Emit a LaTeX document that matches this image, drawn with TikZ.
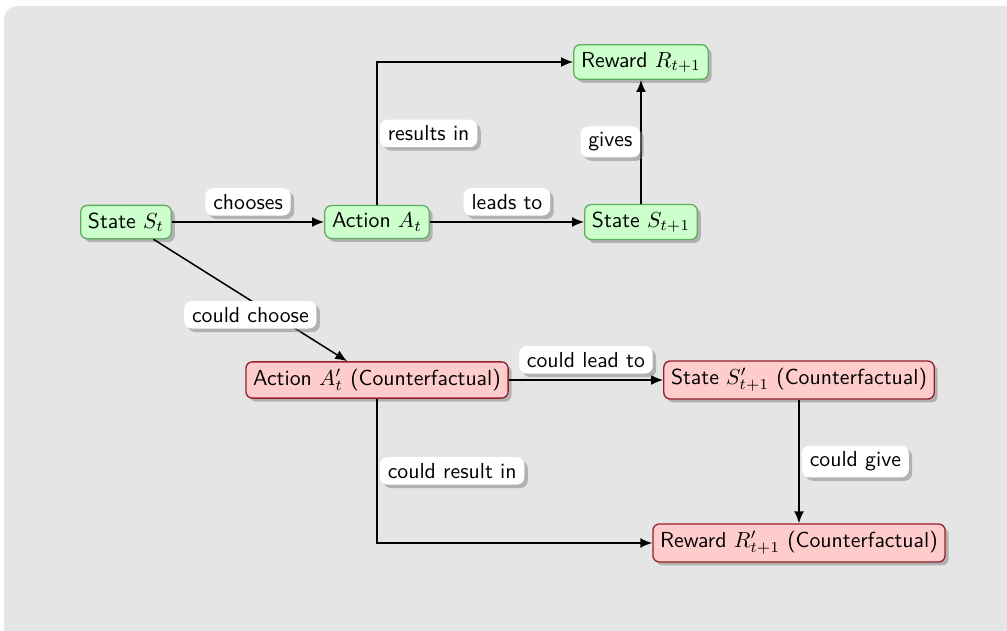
\documentclass[tikz,border=0pt]{standalone}
\usetikzlibrary{arrows.meta,shadows}
\definecolor{realedge}{RGB}{95,175,95}
\definecolor{realfill}{RGB}{204,255,204}
\definecolor{cfedge}{RGB}{150,30,40}
\definecolor{cffill}{RGB}{255,204,204}
\definecolor{panel}{RGB}{229,229,229}
\begin{document}
\begin{tikzpicture}[x=0.46pt,y=-0.46pt,font=\sffamily,
  soft/.style={drop shadow={shadow xshift=1.6pt,shadow yshift=-1.6pt,opacity=0.5,fill=black!50}},
  box/.style={rounded corners=3pt,inner sep=3.33pt,line width=0.6pt,soft},
  real/.style={box,fill=realfill,draw=realedge},
  cf/.style={box,fill=cffill,draw=cfedge},
  tag/.style={fill=white,rounded corners=3.5pt,inner xsep=3.6pt,inner ysep=2.8pt,soft},
  link/.style={line width=0.7pt,-{Latex[length=5.5pt,width=4.5pt]}}
]
% page and grey panel
\useasboundingbox (0,0) rectangle (1007,631);
\clip (0,0) rectangle (1007,631);
\fill[panel,rounded corners=6pt] (4,6) rectangle (1030,650);

% actual trajectory
\node[real] (St)  at (126,222) {State $S_t$};
\node[real] (At)  at (377,222) {Action $A_t$};
\node[real] (St1) at (641,222) {State $S_{t+1}$};
\node[real] (Rt1) at (641,62)  {Reward $R_{t+1}$};

% counterfactual trajectory
\node[cf] (Acf) at (377,380) {Action $A'_t$ (Counterfactual)};
\node[cf] (Scf) at (799,380) {State $S'_{t+1}$ (Counterfactual)};
\node[cf] (Rcf) at (799,543) {Reward $R'_{t+1}$ (Counterfactual)};

% connectors
\draw[link] (St) -- node[tag,above=2.6pt] {chooses} (At);
\draw[link] (At) -- node[tag,above=2.6pt] {leads to} (St1);
\draw[link] (At) |- node[tag,right=1pt,pos=0.25] {results in} (Rt1);
\draw[link] (St1) -- node[tag,left=0pt] {gives} (Rt1);
\draw[link] (St) -- node[tag,below=0pt] {could choose} (Acf);
\draw[link] (Acf) -- node[tag,above=2.6pt] {could lead to} (Scf);
\draw[link] (Acf) |- node[tag,right=1pt,pos=0.25] {could result in} (Rcf);
\draw[link] (Scf) -- node[tag,right=1pt] {could give} (Rcf);
\end{tikzpicture}
\end{document}
